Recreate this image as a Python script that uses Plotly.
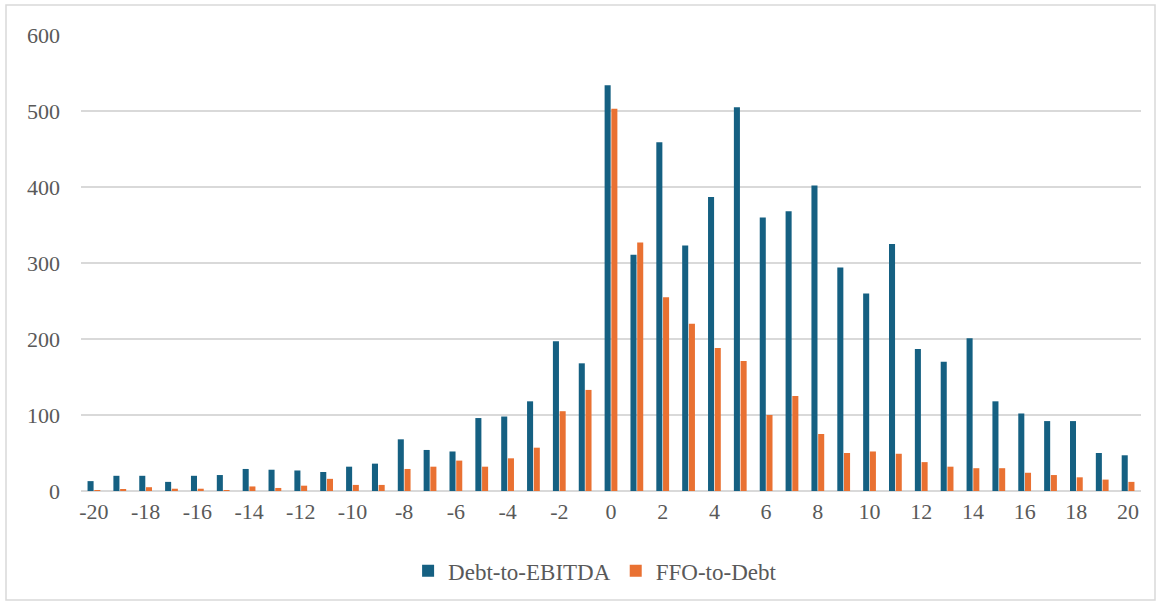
import plotly.graph_objects as go

# Categories and series values
categories = list(range(-20, 21))
debt_to_ebitda = [13, 20, 20, 12, 20, 21, 29, 28, 27, 25, 32, 36, 68, 54, 52, 96, 98, 118, 197, 168,
                  534, 311, 459, 323, 387, 505, 360, 368, 402, 294, 260, 325, 187, 170, 201, 118, 102, 92, 92, 50, 47]
ffo_to_debt = [1, 2, 5, 3, 3, 1, 6, 4, 7, 16, 8, 8, 29, 32, 40, 32, 43, 57, 105, 133,
               503, 327, 255, 220, 188, 171, 100, 125, 75, 50, 52, 49, 38, 32, 30, 30, 24, 21, 18, 15, 12]
x_tick_values = list(range(-20, 21, 2))
y_tick_values = [0, 100, 200, 300, 400, 500, 600]

BLUE = "#156082"
ORANGE = "#E97132"
GRID = "#d9d9d9"
TEXT = "#595959"
FONT = "Liberation Serif, Times New Roman, serif"

fig = go.Figure()
fig.add_trace(go.Bar(x=categories, y=debt_to_ebitda, name="Debt-to-EBITDA",
                     marker=dict(color=BLUE, line=dict(width=0))))
fig.add_trace(go.Bar(x=categories, y=ffo_to_debt, name="FFO-to-Debt",
                     marker=dict(color=ORANGE, line=dict(width=0))))

fig.update_layout(
    width=1161, height=605,
    margin=dict(l=81, r=20, t=35, b=114),
    paper_bgcolor="white", plot_bgcolor="white",
    barmode="group", bargap=0.48, bargroupgap=0.1,
    font=dict(family=FONT, size=22, color=TEXT),
    showlegend=True,
    legend=dict(orientation="h", x=0.485, xanchor="center", y=-0.175, yanchor="middle",
                font=dict(family=FONT, size=23, color=TEXT),
                itemwidth=30, traceorder="normal"),
    xaxis=dict(
        tickmode="array", tickvals=x_tick_values, ticktext=[str(v) for v in x_tick_values],
        range=[-20.5, 20.5], showgrid=False, showline=False, zeroline=False,
        ticks="", ticklabelstandoff=5,
    ),
    yaxis=dict(
        tickmode="array", tickvals=y_tick_values, ticktext=[str(v) for v in y_tick_values],
        range=[0, 600], showgrid=True, gridcolor=GRID, gridwidth=1.5,
        zeroline=True, zerolinecolor=GRID, zerolinewidth=1.5,
        showline=False, ticks="", ticklabelstandoff=20,
    ),
    shapes=[dict(type="rect", xref="paper", yref="paper",
                 x0=-75 / 1060, x1=1 + 14 / 1060, y0=-109 / 456, y1=1 + 30 / 456,
                 line=dict(color=GRID, width=1.5), fillcolor="rgba(0,0,0,0)", layer="below")],
)

fig.write_html("out.html")
